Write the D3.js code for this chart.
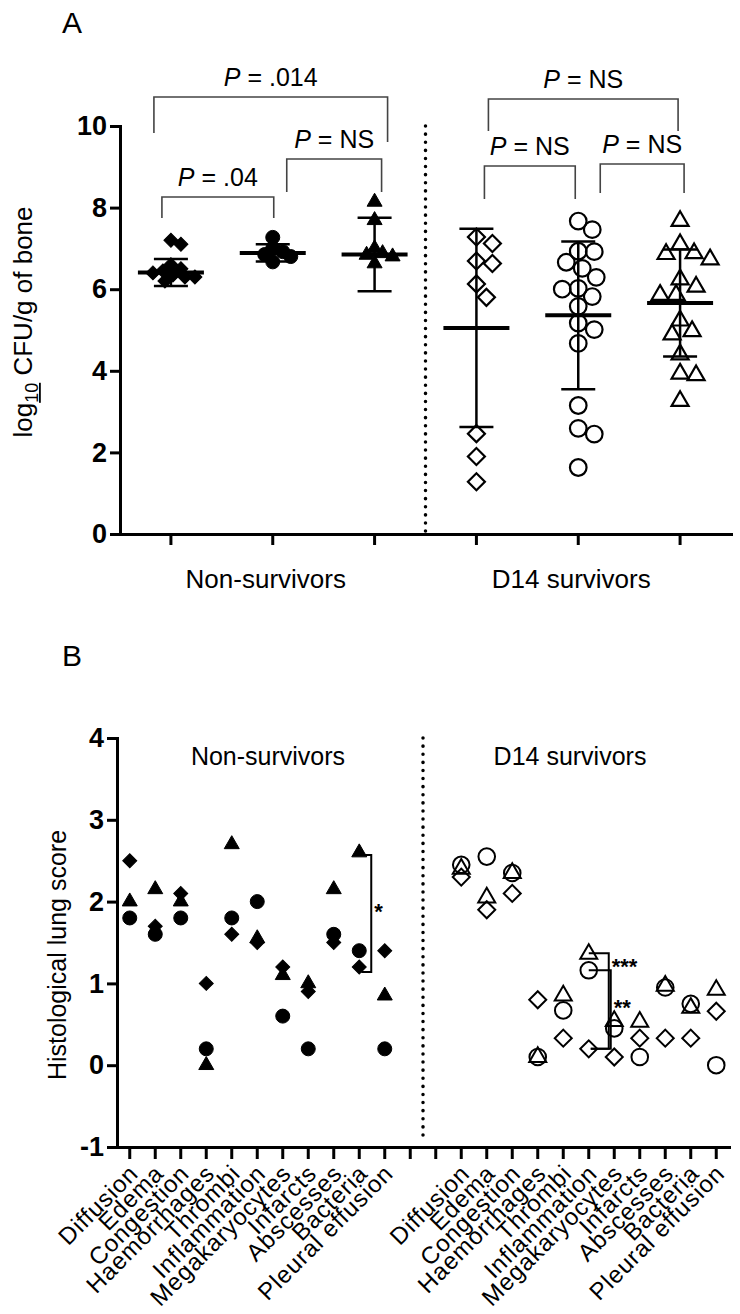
<!DOCTYPE html>
<html lang="en">
<head>
<meta charset="UTF-8">
<title>Bone CFU and lung histology</title>
<script src="https://d3js.org/d3.v7.min.js"></script>
<style>
  body { margin: 0; background: #ffffff; }
  svg { display: block; font-family: 'Liberation Sans', Arial, Helvetica, sans-serif; }
  .axis path, .axis line { stroke: #000; stroke-width: 3; }
  .axis .tick text { font-size: 27px; font-weight: bold; fill: #000; }
  .xlab .tick text { font-size: 24px; font-weight: normal; letter-spacing: 0.9px; }
</style>
</head>
<body>
<svg id="chart" width="740" height="1314"></svg>
<script>
// ---- Panel A: log10 CFU/g of bone ----
const cfuColumns = ['NS-1', 'NS-2', 'NS-3', 'D14-1', 'D14-2', 'D14-3'];
const cfuShapes = ['diamond', 'circle', 'triangle', 'diamond', 'circle', 'triangle'];
const cfuFilled = [true, true, true, false, false, false];
const cfuValues = [
  [7.2, 7.1, 6.6, 6.5, 6.45, 6.4, 6.35, 6.3, 6.3, 6.2],
  [7.27, 7.0, 6.92, 6.85, 6.8, 6.67],
  [8.14, 7.69, 7.0, 6.88, 6.84, 6.8, 6.63],
  [7.28, 7.12, 6.69, 6.63, 6.13, 5.8, 2.46, 1.9, 1.28],
  [7.67, 7.46, 6.93, 6.92, 6.66, 6.51, 6.29, 6.02, 6.0, 5.82, 5.58, 5.17, 5.01, 4.67, 3.15, 2.59, 2.45, 1.63],
  [7.67, 7.1, 6.88, 6.86, 6.73, 6.24, 6.06, 5.86, 5.86, 5.23, 4.97, 4.89, 4.4, 3.93, 3.89, 3.26]
];
const cfuMean = [6.41, 6.89, 6.85, 5.05, 5.36, 5.66];
const cfuSd = [0.33, 0.21, 0.9, 2.43, 1.81, 1.31];
const cfuTicks = [0, 2, 4, 6, 8, 10];
const cfuGroups = ['Non-survivors', 'D14 survivors'];
const cfuTests = [
  { a: 0, b: 2, p: '.014' },
  { a: 0, b: 1, p: '.04' },
  { a: 1, b: 2, p: 'NS' },
  { a: 3, b: 5, p: 'NS' },
  { a: 3, b: 4, p: 'NS' },
  { a: 4, b: 5, p: 'NS' }
];

// ---- Panel B: histological lung score ----
const lesions = ['Diffusion', 'Edema', 'Congestion', 'Haemorrhages', 'Thrombi', 'Inflammation',
  'Megakaryocytes', 'Infarcts', 'Abscesses', 'Bacteria', 'Pleural effusion'];
const nsDiamond  = [2.5, 1.7, 2.1, 1.0, 1.6, 1.5, 1.2, 0.9, 1.5, 1.2, 1.4];
const nsTriangle = [2.0, 2.15, 2.0, 0.0, 2.7, 1.55, 1.1, 1.0, 2.15, 2.6, 0.85];
const nsCircle   = [1.8, 1.6, 1.8, 0.2, 1.8, 2.0, 0.6, 0.2, 1.6, 1.4, 0.2];
const d14Diamond  = [2.3, 1.9, 2.1, 0.8, 0.33, 0.2, 0.1, 0.33, 0.33, 0.33, 0.66];
const d14Triangle = [2.4, 2.05, 2.35, 0.1, 0.85, 1.36, 0.54, 0.53, 0.97, 0.7, 0.92];
const d14Circle   = [2.45, 2.55, 2.35, 0.1, 0.67, 1.16, 0.45, 0.1, 0.95, 0.75, 0.0];
const scoreTicks = [-1, 0, 1, 2, 3, 4];
const scoreTests = [
  { group: 'NS', lesion: 'Bacteria', from: 2.57, to: 1.14, label: '*' },
  { group: 'D14', lesion: 'Inflammation', from: 1.37, to: 0.2, label: '***' },
  { group: 'D14', lesion: 'Inflammation', from: 1.16, to: 0.2, label: '**' }
];

const svg = d3.select('#chart');

function shapePath(shape, filled) {
  if (shape === 'circle') {
    const r = filled ? 7 : 8.3;
    return d3.symbol(d3.symbolCircle, Math.PI * r * r)();
  }
  if (shape === 'triangle') {
    const s = filled ? 15 : 17;
    return d3.symbol(d3.symbolTriangle, Math.sqrt(3) / 4 * s * s)();
  }
  const diag = filled ? 14 : 17;
  return d3.symbol(d3.symbolSquare, diag * diag / 2)();
}
function shapeRot(shape) { return shape === 'diamond' ? ' rotate(45)' : ''; }

// simple swarm so dots in a column do not sit on top of each other
function swarm(values, y, minDist) {
  const placed = [];
  const out = new Array(values.length);
  const order = values.map((v, i) => i).sort((a, b) => values[b] - values[a]);
  order.forEach(i => {
    const py = y(values[i]);
    let off = 0;
    for (let k = 0; k < 60; k++) {
      const c = k === 0 ? 0 : (k % 2 ? 1 : -1) * Math.ceil(k / 2) * 2;
      if (placed.every(p => Math.hypot(p.x - c, p.y - py) >= minDist)) { off = c; break; }
    }
    placed.push({ x: off, y: py });
    out[i] = off;
  });
  return out;
}

// ================= Panel A =================
const xA = d3.scaleBand().domain(cfuColumns).range([120, 731]);
const yA = d3.scaleLinear().domain([0, 10]).range([534, 126]);
const cx = i => xA(cfuColumns[i]) + xA.bandwidth() / 2;

svg.append('text').attr('x', 62).attr('y', 33).attr('font-size', 30).text('A');

svg.append('g').attr('class', 'axis')
  .attr('transform', 'translate(120,0)')
  .call(d3.axisLeft(yA).tickValues(cfuTicks).tickSize(10).tickSizeOuter(0).tickPadding(3))
  .select('.domain').attr('stroke-linecap', 'square');

svg.append('g').attr('class', 'axis')
  .attr('transform', 'translate(0,534)')
  .call(d3.axisBottom(xA).tickSize(11).tickSizeOuter(0).tickFormat(''))
  .select('.domain').attr('stroke-linecap', 'square');

// group labels under the axis
[1, 4].forEach((col, g) => {
  svg.append('text')
    .attr('x', cx(col) - 7).attr('y', 588)
    .attr('text-anchor', 'middle').attr('font-size', 26)
    .text(cfuGroups[g]);
});

// y title with underlined subscript
const ttlA = svg.append('text')
  .attr('transform', 'translate(32,322) rotate(-90)')
  .attr('text-anchor', 'middle').attr('font-size', 26);
ttlA.append('tspan').text('log');
ttlA.append('tspan').attr('font-size', 18).attr('dy', 6).attr('text-decoration', 'underline').text('10');
ttlA.append('tspan').attr('dy', -6).text(' CFU/g of bone');

// dotted divider
svg.append('line')
  .attr('x1', xA(cfuColumns[3])).attr('x2', xA(cfuColumns[3]))
  .attr('y1', yA(10)).attr('y2', yA(0))
  .attr('stroke', '#000').attr('stroke-width', 3.5)
  .attr('stroke-linecap', 'round').attr('stroke-dasharray', '0.1 8');

// points
cfuValues.forEach((vals, i) => {
  const filled = cfuFilled[i];
  const offs = swarm(vals, yA, filled ? 9 : 16);
  svg.append('g').selectAll('path')
    .data(vals)
    .join('path')
    .attr('d', shapePath(cfuShapes[i], filled))
    .attr('transform', (d, k) => `translate(${cx(i) + offs[k]},${yA(d)})${shapeRot(cfuShapes[i])}`)
    .attr('fill', filled ? '#000' : 'none')
    .attr('stroke', '#000')
    .attr('stroke-width', filled ? 1 : 2.2);
});

// mean +/- SD
const errA = svg.append('g').attr('stroke', '#000');
cfuMean.forEach((m, i) => {
  const x = cx(i);
  errA.append('line').attr('x1', x).attr('x2', x)
    .attr('y1', yA(m + cfuSd[i])).attr('y2', yA(m - cfuSd[i])).attr('stroke-width', 2.5);
  [m + cfuSd[i], m - cfuSd[i]].forEach(v => {
    errA.append('line').attr('x1', x - 17).attr('x2', x + 17)
      .attr('y1', yA(v)).attr('y2', yA(v)).attr('stroke-width', 2.5);
  });
  errA.append('line').attr('x1', x - 33).attr('x2', x + 33)
    .attr('y1', yA(m)).attr('y2', yA(m)).attr('stroke-width', 4);
});

// comparison brackets (pixel layout of each bracket)
const bracketLayout = [
  { top: 97, legL: 133, legR: 142, dl: -17, dr: 13 },
  { top: 197, legL: 218, legR: 218, dl: -9, dr: 1 },
  { top: 159, legL: 192, legR: 192, dl: 14, dr: 7 },
  { top: 99, legL: 131, legR: 131, dl: 12, dr: -2 },
  { top: 166, legL: 199, legR: 199, dl: 8, dr: -3 },
  { top: 164, legL: 193, legR: 193, dl: 22, dr: 4 }
];
cfuTests.forEach((t, i) => {
  const L = bracketLayout[i];
  const x1 = cx(t.a) + L.dl, x2 = cx(t.b) + L.dr;
  svg.append('path')
    .attr('d', `M${x1},${L.legL}V${L.top}H${x2}V${L.legR}`)
    .attr('fill', 'none').attr('stroke', '#444').attr('stroke-width', 1.6);
  const lab = svg.append('text')
    .attr('x', (x1 + x2) / 2).attr('y', L.top - 11)
    .attr('text-anchor', 'middle').attr('font-size', 25);
  lab.append('tspan').attr('font-style', 'italic').text('P');
  lab.append('tspan').text(' = ' + t.p);
});

// ================= Panel B =================
const slots = lesions.map(l => 'NS|' + l).concat(['gap|1', 'gap|2'], lesions.map(l => 'D14|' + l));
const xB = d3.scaleBand().domain(slots).range([117, 729]);
const yB = d3.scaleLinear().domain([-1, 4]).range([1147, 738]);
const bx = key => xB(key) + xB.bandwidth() / 2;

svg.append('text').attr('x', 62).attr('y', 666).attr('font-size', 30).text('B');

svg.append('g').attr('class', 'axis')
  .attr('transform', 'translate(117,0)')
  .call(d3.axisLeft(yB).tickValues(scoreTicks).tickFormat(d => String(d))
    .tickSize(10).tickSizeOuter(0).tickPadding(3))
  .select('.domain').attr('stroke-linecap', 'square');

const xAxB = svg.append('g').attr('class', 'axis xlab')
  .attr('transform', 'translate(0,1147)')
  .call(d3.axisBottom(xB).tickSize(12).tickSizeOuter(0)
    .tickFormat(d => d.startsWith('gap') ? '' : d.split('|')[1]));
xAxB.select('.domain').attr('stroke-linecap', 'square');
xAxB.selectAll('.tick text')
  .attr('x', 0).attr('y', 0).attr('dy', '0.35em')
  .attr('text-anchor', 'end')
  .attr('transform', 'translate(4,22) rotate(-45)');

svg.append('text')
  .attr('transform', 'translate(66,955) rotate(-90)')
  .attr('text-anchor', 'middle').attr('font-size', 25)
  .text('Histological lung score');

svg.append('text').attr('x', 268).attr('y', 765).attr('text-anchor', 'middle')
  .attr('font-size', 25).text('Non-survivors');
svg.append('text').attr('x', 570).attr('y', 765).attr('text-anchor', 'middle')
  .attr('font-size', 25).text('D14 survivors');

svg.append('line')
  .attr('x1', xB('gap|2')).attr('x2', xB('gap|2'))
  .attr('y1', yB(4)).attr('y2', yB(-0.95))
  .attr('stroke', '#000').attr('stroke-width', 3.5)
  .attr('stroke-linecap', 'round').attr('stroke-dasharray', '0.1 8');

// significance brackets
const bracketDx = [12, 20, 22];
scoreTests.forEach((t, i) => {
  const x0 = bx(t.group + '|' + t.lesion);
  const xv = x0 + bracketDx[i];
  svg.append('path')
    .attr('d', `M${x0},${yB(t.from)}H${xv}V${yB(t.to)}H${x0 + 2}`)
    .attr('fill', 'none').attr('stroke', '#000').attr('stroke-width', 2);
});
const starAt = [1.94, 1.26, 0.76];
scoreTests.forEach((t, i) => {
  svg.append('text')
    .attr('x', bx(t.group + '|' + t.lesion) + bracketDx[i] + 3)
    .attr('y', yB(starAt[i]) + 12)
    .attr('font-size', 22).attr('font-weight', 'bold')
    .text(t.label);
});

const seriesB = [
  { group: 'NS', shape: 'diamond', filled: true, values: nsDiamond },
  { group: 'NS', shape: 'triangle', filled: true, values: nsTriangle },
  { group: 'NS', shape: 'circle', filled: true, values: nsCircle },
  { group: 'D14', shape: 'diamond', filled: false, values: d14Diamond },
  { group: 'D14', shape: 'triangle', filled: false, values: d14Triangle },
  { group: 'D14', shape: 'circle', filled: false, values: d14Circle }
];
seriesB.forEach(s => {
  svg.append('g').selectAll('path')
    .data(s.values)
    .join('path')
    .attr('d', shapePath(s.shape, s.filled))
    .attr('transform', (d, k) => `translate(${bx(s.group + '|' + lesions[k])},${yB(d)})${shapeRot(s.shape)}`)
    .attr('fill', s.filled ? '#000' : 'none')
    .attr('stroke', '#000')
    .attr('stroke-width', s.filled ? 1 : 2);
});
</script>
</body>
</html>
